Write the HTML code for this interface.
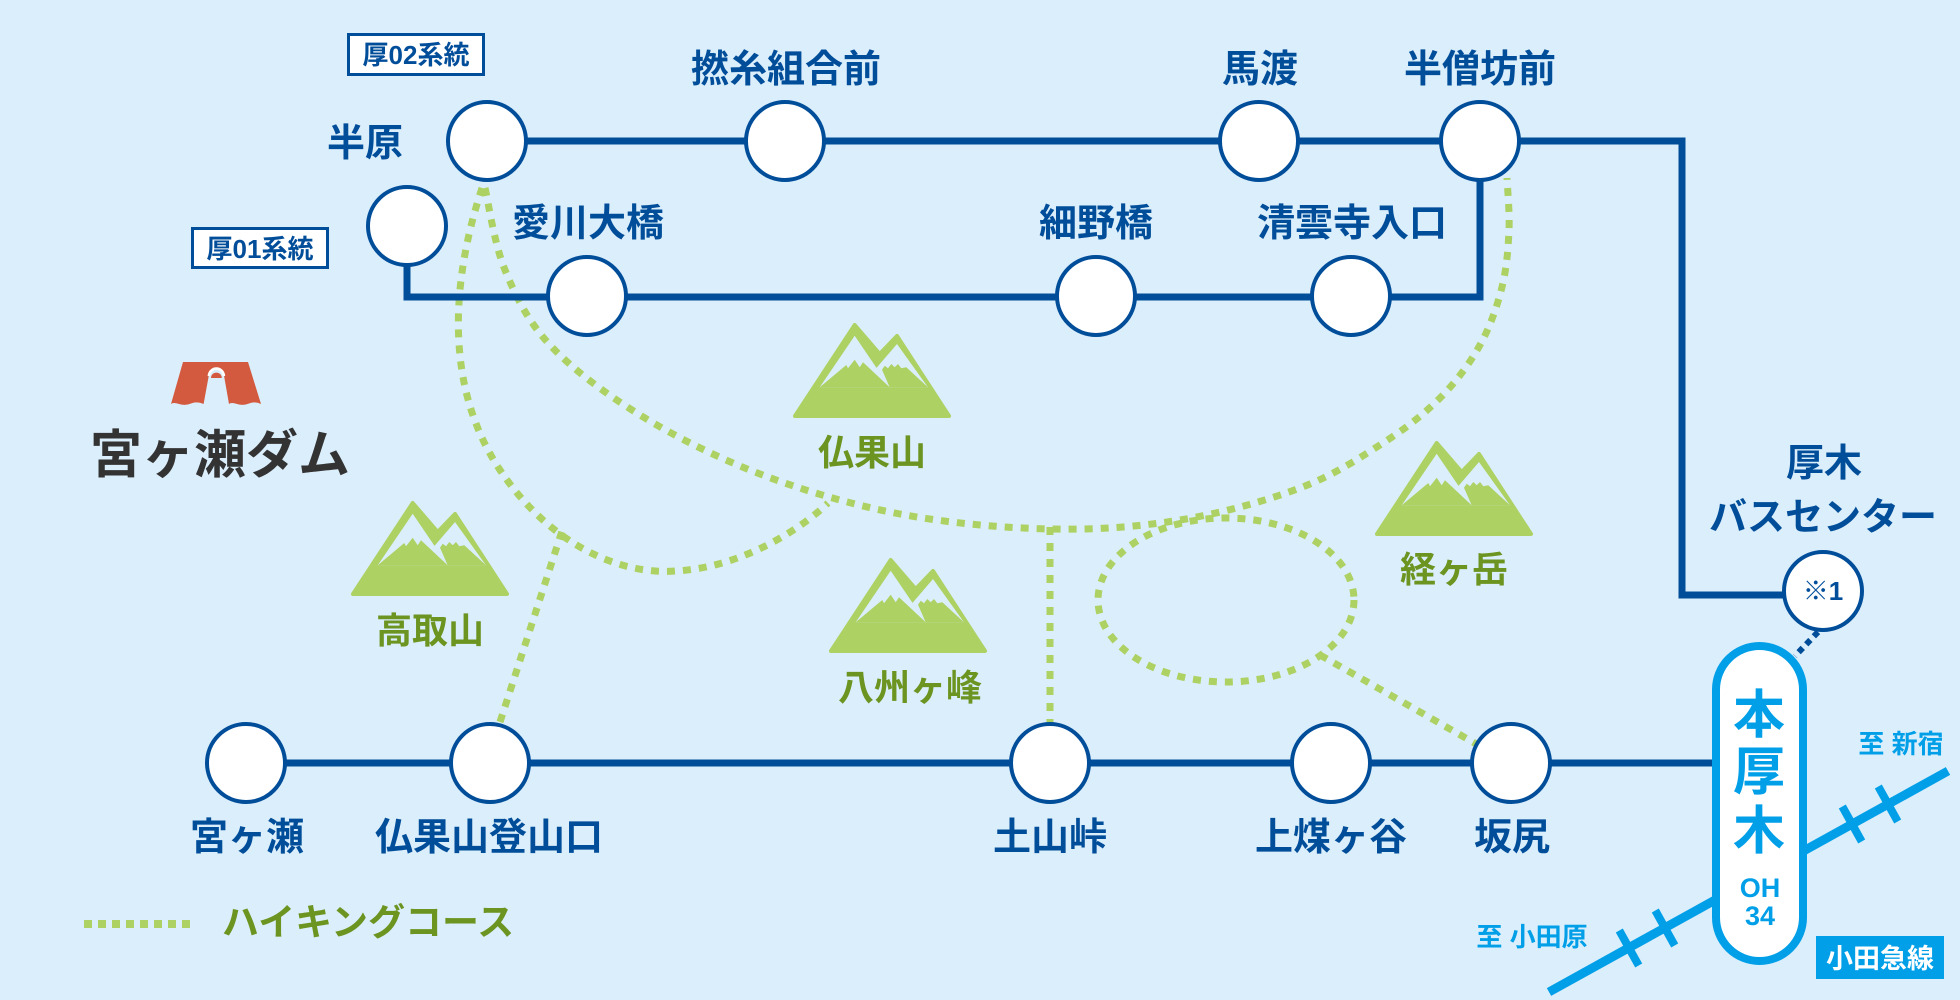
<!DOCTYPE html>
<html><head><meta charset="utf-8"><style>
html,body{margin:0;padding:0;background:#DBEEFB;}
svg{display:block;}
text{font-family:"Liberation Sans","Noto Sans CJK JP",sans-serif;font-weight:bold;}
</style></head><body>
<svg width="1960" height="1000" viewBox="0 0 1960 1000" xmlns="http://www.w3.org/2000/svg">
<rect width="1960" height="1000" fill="#DBEEFB"/>

<!-- hiking paths -->
<g fill="none" stroke="#ADD162" stroke-width="7" stroke-dasharray="8 8">
<path d="M485,188 C488.3,201.7 494.2,243.8 505,270 C515.8,296.2 527.5,320.8 550,345 C572.5,369.2 605,393.5 640,415 C675,436.5 716.7,457.5 760,474 C803.3,490.5 851.7,504.8 900,514 C948.3,523.2 1003.3,528 1050,529 C1096.7,530 1138.3,526.8 1180,520 C1221.7,513.2 1266.2,500.8 1300,488 C1333.8,475.2 1359.7,458 1383,443 C1406.3,428 1423.8,414.3 1440,398 C1456.2,381.7 1469.7,363.5 1480,345 C1490.3,326.5 1497.2,306.2 1502,287 C1506.8,267.8 1508.2,248.2 1509,230 C1509.8,211.8 1507.3,186.7 1507,178"/>
<path d="M482,188 C455,270 440,380 500,470 C550,545 620,575 675,571 C740,568 800,530 828,503"/>
<path d="M500,722 L562,531"/>
<path d="M1050,527 L1050,722"/>
<ellipse cx="1226" cy="600" rx="128" ry="82"/>
<path d="M1320,655 L1478,745"/>
</g>

<!-- Odakyu line -->
<g stroke="#009FE8" stroke-width="9" fill="none">
<line x1="1549" y1="992" x2="1948" y2="771"/>
<line x1="1619.3" y1="930.5" x2="1638.7" y2="965.5" stroke-width="8"/>
<line x1="1655.3" y1="910.5" x2="1674.7" y2="945.5" stroke-width="8"/>
<line x1="1842.3" y1="806.5" x2="1861.7" y2="841.5" stroke-width="8"/>
<line x1="1878.3" y1="786.5" x2="1897.7" y2="821.5" stroke-width="8"/>
</g>

<!-- bus routes -->
<g fill="none" stroke="#004D9A" stroke-width="7">
<polyline points="487,141 1682,141 1682,595 1790,595"/>
<polyline points="407,226 407,297 1480,297 1480,141"/>
<line x1="246" y1="763" x2="1716" y2="763"/>
</g>
<line x1="1818" y1="632" x2="1795" y2="656" stroke="#004D9A" stroke-width="6" stroke-dasharray="6 5"/>

<!-- pill -->
<rect x="1716" y="646" width="87" height="315" rx="43.5" fill="#fff" stroke="#009FE8" stroke-width="8"/>

<!-- stations -->
<g fill="#fff" stroke="#004D9A" stroke-width="4">
<circle cx="487" cy="141" r="39"/>
<circle cx="785" cy="141" r="39"/>
<circle cx="1259" cy="141" r="39"/>
<circle cx="1480" cy="141" r="39"/>
<circle cx="407" cy="226" r="39"/>
<circle cx="587" cy="296" r="39"/>
<circle cx="1096" cy="296" r="39"/>
<circle cx="1351" cy="296" r="39"/>
<circle cx="246" cy="763" r="39"/>
<circle cx="490" cy="763" r="39"/>
<circle cx="1050" cy="763" r="39"/>
<circle cx="1331" cy="763" r="39"/>
<circle cx="1511" cy="763" r="39"/>
<circle cx="1823" cy="591" r="39"/>
</g>

<!-- route boxes -->
<rect x="348.5" y="34.5" width="135" height="40" fill="#fff" stroke="#004D9A" stroke-width="3"/>
<text x="416" y="64" font-size="26" fill="#004D9A" text-anchor="middle">厚02系統</text>
<rect x="192.5" y="228.5" width="135" height="39" fill="#fff" stroke="#004D9A" stroke-width="3"/>
<text x="260" y="258" font-size="26" fill="#004D9A" text-anchor="middle">厚01系統</text>

<!-- station labels -->
<g font-size="38" fill="#004D9A" text-anchor="middle">
<text x="365" y="156">半原</text>
<text x="786" y="82">撚糸組合前</text>
<text x="1260" y="82">馬渡</text>
<text x="1480" y="82">半僧坊前</text>
<text x="588" y="236">愛川大橋</text>
<text x="1096" y="236">細野橋</text>
<text x="1352" y="236">清雲寺入口</text>
<text x="1824" y="476">厚木</text>
<text x="1823" y="530">バスセンター</text>
<text x="247" y="850">宮ヶ瀬</text>
<text x="489" y="850">仏果山登山口</text>
<text x="1050" y="850">土山峠</text>
<text x="1331" y="850">上煤ヶ谷</text>
<text x="1512" y="850">坂尻</text>
</g>
<text x="1823" y="600" font-size="26" fill="#004D9A" text-anchor="middle">※1</text>

<!-- Hon-Atsugi -->
<g fill="#009FE8" text-anchor="middle">
<text x="1759" y="733" font-size="52">本</text>
<text x="1759" y="790" font-size="52">厚</text>
<text x="1759" y="849" font-size="52">木</text>
<text x="1760" y="897" font-size="27">OH</text>
<text x="1760" y="925" font-size="27">34</text>
<text x="1901" y="753" font-size="26">至 新宿</text>
<text x="1532" y="946" font-size="26">至 小田原</text>
</g>
<rect x="1816" y="936" width="128" height="43" fill="#009FE8"/>
<text x="1880" y="968" font-size="27" fill="#fff" text-anchor="middle">小田急線</text>

<!-- dam -->
<path d="M183,362 H248 L261,404 Q255,401 249,403.5 T237,404 T229,404 L223.9,375 A7.5,7.5 0 0 0 208.9,375 L203.6,404 Q197,401 191,403.5 T179,404 T171,404 Z" fill="#D35A3E"/>
<path d="M208.9,376 A7.5,7.5 0 0 1 223.9,376" fill="none" stroke="#fff" stroke-width="2.5"/>
<path d="M211,378 A5.4,5.4 0 0 1 221.8,378 Z" fill="#D35A3E"/>
<text x="220" y="473" font-size="52" fill="#333333" text-anchor="middle">宮ヶ瀬ダム</text>

<!-- mountains -->
<g transform="translate(350,501)">
<path d="M3,93 L62.7,2 L87.7,31 L105,13 L157,93 Z" fill="#ADD162" stroke="#ADD162" stroke-width="4" stroke-linejoin="round"/>
<polygon points="62.7,12.7 27.7,64.3 97.7,64.3" fill="#DBEEFB"/>
<polygon points="105,21 136,64.3 97.7,64.3 84.4,45" fill="#DBEEFB"/>
<polygon points="27.7,64.3 54.3,42 56,45.3 62.7,36.7 67.7,44.3 71,39.3 97.7,64.3" fill="#ADD162"/>
<polygon points="90,46.7 92.7,42.7 96,45.3 99.3,41 102.7,44.3 106,41 109.3,45.3 114.3,44.3 136,64.3 97.7,64.3" fill="#ADD162"/>
</g>
<g transform="translate(792,323)">
<path d="M3,93 L62.7,2 L87.7,31 L105,13 L157,93 Z" fill="#ADD162" stroke="#ADD162" stroke-width="4" stroke-linejoin="round"/>
<polygon points="62.7,12.7 27.7,64.3 97.7,64.3" fill="#DBEEFB"/>
<polygon points="105,21 136,64.3 97.7,64.3 84.4,45" fill="#DBEEFB"/>
<polygon points="27.7,64.3 54.3,42 56,45.3 62.7,36.7 67.7,44.3 71,39.3 97.7,64.3" fill="#ADD162"/>
<polygon points="90,46.7 92.7,42.7 96,45.3 99.3,41 102.7,44.3 106,41 109.3,45.3 114.3,44.3 136,64.3 97.7,64.3" fill="#ADD162"/>
</g>
<g transform="translate(828,558)">
<path d="M3,93 L62.7,2 L87.7,31 L105,13 L157,93 Z" fill="#ADD162" stroke="#ADD162" stroke-width="4" stroke-linejoin="round"/>
<polygon points="62.7,12.7 27.7,64.3 97.7,64.3" fill="#DBEEFB"/>
<polygon points="105,21 136,64.3 97.7,64.3 84.4,45" fill="#DBEEFB"/>
<polygon points="27.7,64.3 54.3,42 56,45.3 62.7,36.7 67.7,44.3 71,39.3 97.7,64.3" fill="#ADD162"/>
<polygon points="90,46.7 92.7,42.7 96,45.3 99.3,41 102.7,44.3 106,41 109.3,45.3 114.3,44.3 136,64.3 97.7,64.3" fill="#ADD162"/>
</g>
<g transform="translate(1374,441)">
<path d="M3,93 L62.7,2 L87.7,31 L105,13 L157,93 Z" fill="#ADD162" stroke="#ADD162" stroke-width="4" stroke-linejoin="round"/>
<polygon points="62.7,12.7 27.7,64.3 97.7,64.3" fill="#DBEEFB"/>
<polygon points="105,21 136,64.3 97.7,64.3 84.4,45" fill="#DBEEFB"/>
<polygon points="27.7,64.3 54.3,42 56,45.3 62.7,36.7 67.7,44.3 71,39.3 97.7,64.3" fill="#ADD162"/>
<polygon points="90,46.7 92.7,42.7 96,45.3 99.3,41 102.7,44.3 106,41 109.3,45.3 114.3,44.3 136,64.3 97.7,64.3" fill="#ADD162"/>
</g>

<g font-size="36" fill="#6B9420" text-anchor="middle">
<text x="872" y="465">仏果山</text>
<text x="430" y="643">高取山</text>
<text x="910" y="700">八州ヶ峰</text>
<text x="1454" y="582">経ヶ岳</text>
</g>

<!-- legend -->
<line x1="84" y1="924" x2="190" y2="924" stroke="#ADD162" stroke-width="8" stroke-dasharray="8 6"/>
<text x="368" y="935" font-size="37" fill="#6B9420" text-anchor="middle">ハイキングコース</text>
</svg>
</body></html>
